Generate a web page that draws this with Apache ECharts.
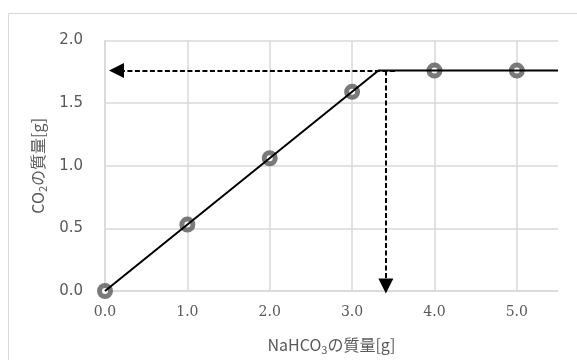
<!DOCTYPE html>
<html>
<head>
<meta charset="utf-8">
<script src="https://cdn.jsdelivr.net/npm/echarts@6/dist/echarts.min.js"></script>
<style>
  html, body { margin: 0; padding: 0; background: #fff; }
</style>
</head>
<body>
<div id="main" style="width:577px;height:360px"></div>
<script>
// 測定点
let nahco3 = [0, 1, 2, 3, 4, 5]
let co2 = [0, 0.53, 1.06, 1.59, 1.76, 1.76]
// 折れ線（グラフの直線部分）
let fitX = [0, 3.32, 5.5]
let fitY = [0, 1.76, 1.76]
// 破線矢印
let hArrowX = [3.52, 0.14]
let hArrowY = [1.76, 1.76]
let vArrowX = [3.41, 3.41]
let vArrowY = [1.76, 0.04]

let gray = '#595959'
let gridColor = '#d9d9d9'

let myChart = echarts.init(document.getElementById('main'))

let points = nahco3.map((x, i) => [x, co2[i]])
let fit = fitX.map((x, i) => [x, fitY[i]])

myChart.setOption({
  animation: false,
  graphic: [{
    type: 'rect',
    shape: { x: 8.5, y: 13.5, width: 620, height: 400 },
    style: { fill: 'none', stroke: gridColor, lineWidth: 1 },
    silent: true
  }],
  grid: { left: 105, right: 19, top: 40.5, bottom: 65 },
  xAxis: {
    type: 'value',
    min: 0,
    max: 5.5,
    interval: 1,
    name: 'NaHCO{sub|3}の質量[g]',
    nameLocation: 'middle',
    nameGap: 44,
    nameTextStyle: {
      color: gray, fontSize: 16, fontFamily: 'Noto Sans CJK JP',
      rich: { sub: { fontSize: 11, color: gray, fontFamily: 'Noto Sans CJK JP', padding: [9, 0, 0, 0] } }
    },
    axisLine: { show: true, lineStyle: { color: gridColor, width: 1.5 } },
    axisTick: { show: false },
    axisLabel: {
      margin: 14, color: gray, fontSize: 14, fontFamily: 'DejaVu Serif',
      showMaxLabel: false,
      formatter: v => v.toFixed(1)
    },
    splitLine: { show: true, showMaxLine: false, lineStyle: { color: gridColor, width: 1.5 } }
  },
  yAxis: {
    type: 'value',
    min: 0,
    max: 2,
    interval: 0.5,
    name: 'CO{sub|2}の質量[g]',
    nameLocation: 'middle',
    nameGap: 56,
    nameTextStyle: {
      color: gray, fontSize: 16, fontFamily: 'Noto Sans CJK JP',
      rich: { sub: { fontSize: 11, color: gray, fontFamily: 'Noto Sans CJK JP', padding: [9, 0, 0, 0] } }
    },
    axisLine: { show: true, lineStyle: { color: gridColor, width: 1.5 } },
    axisTick: { show: false },
    axisLabel: {
      margin: 22, color: gray, fontSize: 15, fontFamily: 'DejaVu Sans',
      formatter: v => v.toFixed(1)
    },
    splitLine: { show: true, lineStyle: { color: gridColor, width: 1.5 } }
  },
  series: [
    {
      type: 'scatter',
      data: points,
      symbol: 'circle',
      symbolSize: 11,
      itemStyle: { color: '#fff', borderColor: gray, borderWidth: 5 },
      z: 2
    },
    {
      type: 'line',
      data: fit,
      showSymbol: false,
      symbol: 'none',
      lineStyle: { color: '#000', width: 2 },
      z: 3,
      markLine: {
        silent: true,
        symbol: ['none', 'triangle'],
        symbolSize: [15, 15],
        label: { show: false },
        lineStyle: { color: '#000', width: 2, type: [5, 2.5] },
        data: [
          [{ coord: [hArrowX[0], hArrowY[0]] }, { coord: [hArrowX[1], hArrowY[1]] }],
          [{ coord: [vArrowX[0], vArrowY[0]] }, { coord: [vArrowX[1], vArrowY[1]] }]
        ]
      }
    }
  ]
})
</script>
</body>
</html>
